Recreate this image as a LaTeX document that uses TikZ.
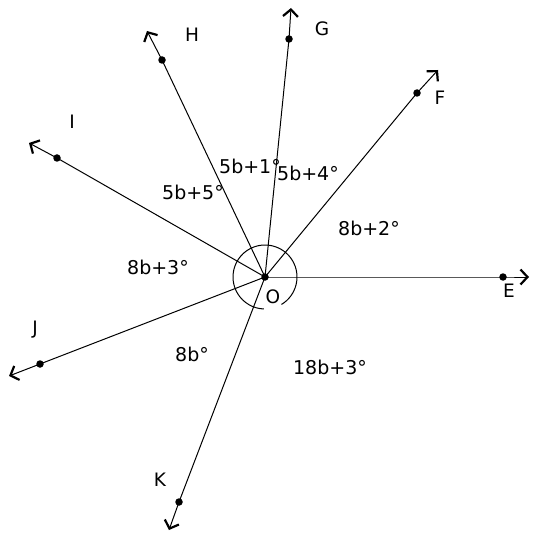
\documentclass[tikz,border=0pt]{standalone}
\usepackage{fontspec}
\setmainfont{DejaVu Sans}
\usetikzlibrary{arrows.meta}
\begin{document}
\begin{tikzpicture}[x=1pt,y=-1pt,
  ray/.style={line width=1pt,-{Straight Barb[length=7pt,width=15pt,line width=2.2pt]}},
  pt/.style={circle,fill=black,inner sep=0pt,minimum size=7.5pt},
  lbl/.style={font=\fontsize{18.5}{22}\selectfont},
  ang/.style={font=\fontsize{19}{22}\selectfont}]
\useasboundingbox (0,0) rectangle (536,537);
\node[pt] (O) at (265,277) {};
\node[pt] (Hd) at (162,60) {};
\node[pt] (Gd) at (289,39) {};
\node[pt] (Fd) at (417,93) {};
\node[pt] (Id) at (57,158) {};
\node[pt] (Jd) at (40,364) {};
\node[pt] (Kd) at (179,502) {};
\node[pt] (Ed) at (503,277) {};
\coordinate (Ht) at (147,31);
\coordinate (Gt) at (291,8);
\coordinate (Ft) at (438,70);
\coordinate (It) at (29,143);
\coordinate (Jt) at (9,376);
\coordinate (Kt) at (169,530);
\coordinate (Et) at (529,277);
\foreach \n in {H,G,F,I,J,K,E}{\draw[ray] (O.center) -- (\n d.center) -- (\n t);}
\draw[line width=1pt] (O.center) ++(59:32) arc (59:-268:32);
\node[lbl] (H) at (192,35) {H};
\node[lbl] (G) at (322,29) {G};
\node[lbl] (F) at (440,98) {F};
\node[lbl] (I) at (72,122) {I};
\node[lbl] (J) at (35,330) {J};
\node[lbl] (K) at (160,480) {K};
\node[lbl] (E) at (509,291) {E};
\node[lbl] (Ol) at (273,297) {O};
\node[ang] (a1) at (250,166) {5b+1°};
\node[ang] (a2) at (308,173) {5b+4°};
\node[ang] (a3) at (193,192) {5b+5°};
\node[ang] (a4) at (369,228) {8b+2°};
\node[ang] (a5) at (158,267) {8b+3°};
\node[ang] (a6) at (192,354) {8b°};
\node[ang] (a7) at (330,367) {18b+3°};
\end{tikzpicture}
\end{document}
